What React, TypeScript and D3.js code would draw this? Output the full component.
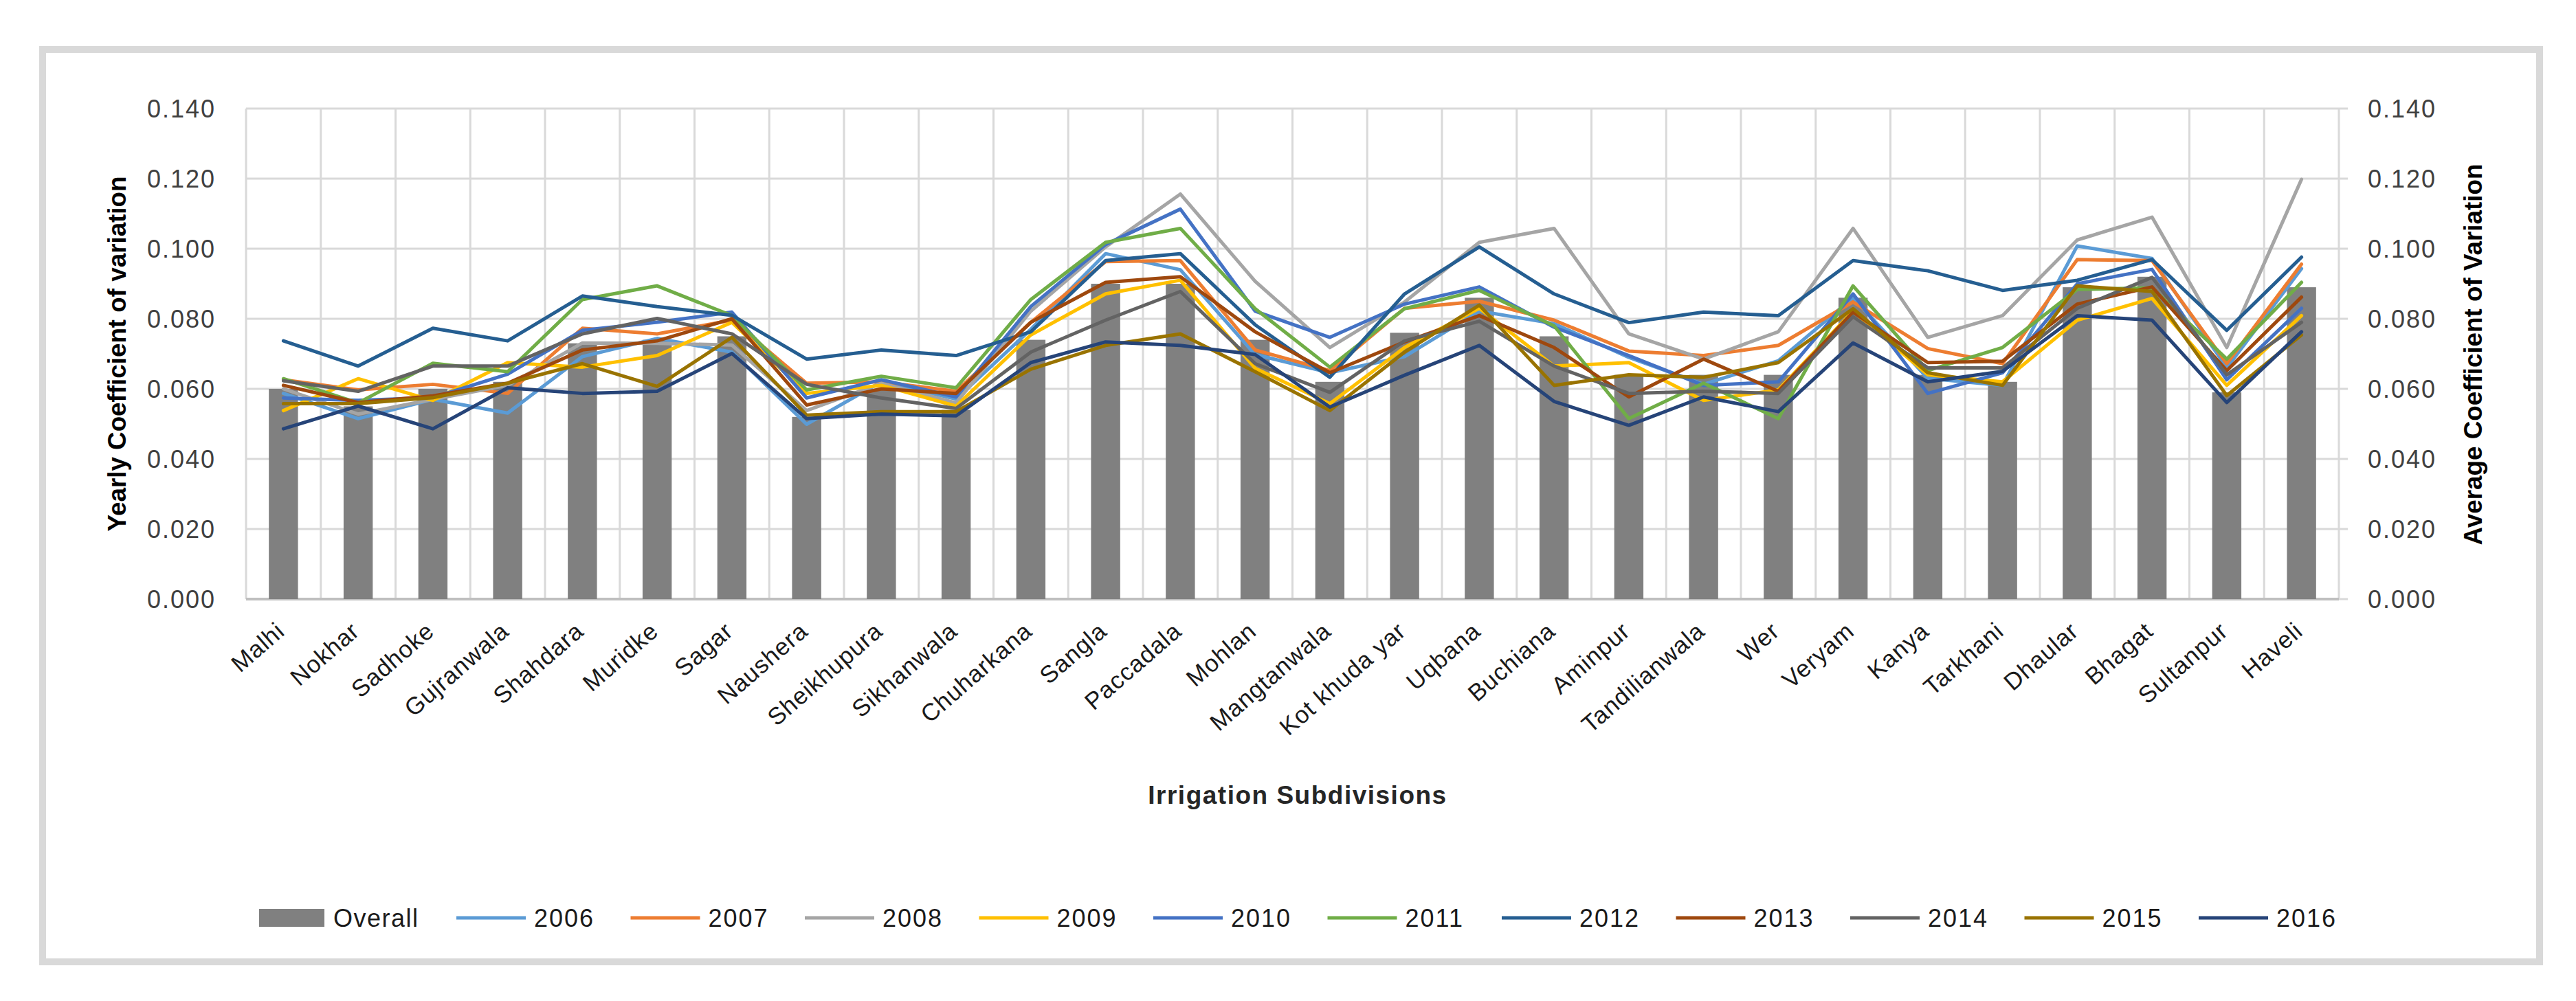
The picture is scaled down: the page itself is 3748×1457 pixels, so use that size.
import { useEffect } from 'react';
import * as d3 from 'd3';

const categories = [
  'Malhi', 'Nokhar', 'Sadhoke', 'Gujranwala', 'Shahdara', 'Muridke', 'Sagar', 'Naushera',
  'Sheikhupura', 'Sikhanwala', 'Chuharkana', 'Sangla', 'Paccadala', 'Mohlan', 'Mangtanwala',
  'Kot khuda yar', 'Uqbana', 'Buchiana', 'Aminpur', 'Tandilianwala', 'Wer', 'Veryam', 'Kanya',
  'Tarkhani', 'Dhaular', 'Bhagat', 'Sultanpur', 'Haveli',
];

const overall = [
  0.060, 0.055, 0.060, 0.062, 0.073, 0.074, 0.075, 0.052, 0.060, 0.054, 0.074, 0.090, 0.090, 0.074,
  0.062, 0.076, 0.086, 0.075, 0.064, 0.064, 0.064, 0.086, 0.064, 0.062, 0.089, 0.092, 0.059, 0.089,
];

const y2006 = [
  0.0587, 0.0515, 0.0570, 0.0531, 0.0692, 0.0744, 0.0705, 0.0499, 0.0620, 0.0571, 0.0770, 0.0986, 0.0940, 0.0698,
  0.0646, 0.0692, 0.0822, 0.0786, 0.0690, 0.0613, 0.0680, 0.0860, 0.0630, 0.0610, 0.1008, 0.0972, 0.0660, 0.0943,
];
const y2007 = [
  0.0626, 0.0597, 0.0613, 0.0587, 0.0773, 0.0757, 0.0796, 0.0616, 0.0620, 0.0593, 0.0790, 0.0963, 0.0966, 0.0711,
  0.0652, 0.0830, 0.0850, 0.0796, 0.0708, 0.0695, 0.0724, 0.0848, 0.0715, 0.0672, 0.0969, 0.0966, 0.0672, 0.0956,
];
const y2008 = [
  0.0600, 0.0528, 0.0570, 0.0610, 0.0731, 0.0730, 0.0725, 0.0538, 0.0616, 0.0560, 0.0822, 0.1005, 0.1156, 0.0907,
  0.0718, 0.0848, 0.1018, 0.1058, 0.0757, 0.0685, 0.0763, 0.1058, 0.0747, 0.0809, 0.1025, 0.1090, 0.0718, 0.1198,
];
const y2009 = [
  0.0538, 0.0629, 0.0567, 0.0675, 0.0662, 0.0695, 0.0790, 0.0587, 0.0610, 0.0551, 0.0754, 0.0871, 0.0910, 0.0659,
  0.0558, 0.0718, 0.0830, 0.0665, 0.0675, 0.0567, 0.0597, 0.0822, 0.0640, 0.0620, 0.0796, 0.0858, 0.0610, 0.0809,
];
const y2010 = [
  0.0574, 0.0567, 0.0575, 0.0642, 0.0767, 0.0790, 0.0819, 0.0574, 0.0626, 0.0577, 0.0835, 0.1012, 0.1113, 0.0822,
  0.0747, 0.0842, 0.0891, 0.0776, 0.0695, 0.0610, 0.0620, 0.0871, 0.0587, 0.0646, 0.0900, 0.0941, 0.0626, 0.0830,
];
const y2011 = [
  0.0629, 0.0560, 0.0673, 0.0649, 0.0855, 0.0894, 0.0809, 0.0597, 0.0636, 0.0603, 0.0855, 0.1018, 0.1058, 0.0829,
  0.0662, 0.0829, 0.0881, 0.0780, 0.0515, 0.0616, 0.0515, 0.0894, 0.0652, 0.0718, 0.0884, 0.0888, 0.0685, 0.0904,
];
const y2012 = [
  0.0737, 0.0665, 0.0773, 0.0737, 0.0865, 0.0835, 0.0810, 0.0685, 0.0711, 0.0695, 0.0763, 0.0966, 0.0986, 0.0783,
  0.0633, 0.0871, 0.1005, 0.0871, 0.0789, 0.0819, 0.0809, 0.0966, 0.0937, 0.0881, 0.0910, 0.0969, 0.0767, 0.0976,
];
const y2013 = [
  0.0610, 0.0561, 0.0580, 0.0616, 0.0711, 0.0737, 0.0800, 0.0554, 0.0600, 0.0587, 0.0790, 0.0904, 0.0920, 0.0763,
  0.0646, 0.0734, 0.0809, 0.0718, 0.0577, 0.0685, 0.0593, 0.0819, 0.0675, 0.0679, 0.0842, 0.0891, 0.0652, 0.0862,
];
const y2014 = [
  0.0623, 0.0593, 0.0665, 0.0665, 0.0757, 0.0801, 0.0757, 0.0613, 0.0574, 0.0544, 0.0705, 0.0796, 0.0878, 0.0672,
  0.0590, 0.0737, 0.0793, 0.0665, 0.0587, 0.0593, 0.0587, 0.0806, 0.0660, 0.0660, 0.0830, 0.0918, 0.0640, 0.0790,
];
const y2015 = [
  0.0558, 0.0558, 0.0575, 0.0616, 0.0672, 0.0607, 0.0747, 0.0525, 0.0535, 0.0535, 0.0656, 0.0724, 0.0757, 0.0649,
  0.0538, 0.0705, 0.0839, 0.0610, 0.0640, 0.0633, 0.0675, 0.0829, 0.0646, 0.0610, 0.0894, 0.0878, 0.0581, 0.0754,
];
const y2016 = [
  0.0486, 0.0551, 0.0486, 0.0603, 0.0587, 0.0593, 0.0701, 0.0515, 0.0528, 0.0523, 0.0675, 0.0734, 0.0724, 0.0698,
  0.0548, 0.0639, 0.0724, 0.0564, 0.0496, 0.0577, 0.0535, 0.0731, 0.0620, 0.0650, 0.0809, 0.0796, 0.0561, 0.0763,
];

const years = ['2006', '2007', '2008', '2009', '2010', '2011', '2012', '2013', '2014', '2015', '2016'];
const yearValues = [y2006, y2007, y2008, y2009, y2010, y2011, y2012, y2013, y2014, y2015, y2016];
const yearColors = [
  '#5B9BD5', '#ED7D31', '#A5A5A5', '#FFC000', '#4472C4', '#70AD47',
  '#255E91', '#9E480E', '#636363', '#997300', '#264478',
];

const W = 3748;
const H = 1457;
const FONT = '"Liberation Sans", Arial, sans-serif';

export default function App() {
  useEffect(() => {
    document.body.style.margin = '0';
  }, []);

  const x = d3.scaleBand<string>().domain(categories).range([358, 3403]).padding(0);
  const y = d3.scaleLinear().domain([0, 0.14]).range([872, 158]);
  const yTicks = y.ticks(7);
  const fmt = d3.format('.3f');
  const bw = x.bandwidth();
  const cx = (c: string) => (x(c) as number) + bw / 2;

  const line = d3.line<number>()
    .x((_, i) => cx(categories[i]))
    .y(d => y(d));

  const series = years.map((name, i) => ({ name, color: yearColors[i], values: yearValues[i] }));

  // legend slots
  const legendX = d3.scaleLinear().domain([0, 10]).range([664, 3199]);

  return (
    <svg width={W} height={H} style={{ display: 'block', background: '#fff' }} fontFamily={FONT}>
      <rect x={62} y={72} width={3633} height={1328} fill="#fff" stroke="#D9D9D9" strokeWidth={10} />

      {/* gridlines */}
      {yTicks.map(t => (
        <line key={'h' + t} x1={358} x2={3416} y1={y(t)} y2={y(t)} stroke="#D9D9D9" strokeWidth={3} />
      ))}
      {categories.map(c => (
        <line key={'v' + c} x1={x(c)} x2={x(c)} y1={158} y2={872} stroke="#D9D9D9" strokeWidth={3} />
      ))}
      <line x1={3403} x2={3403} y1={158} y2={872} stroke="#D9D9D9" strokeWidth={3} />
      <line x1={358} x2={3403} y1={y(0)} y2={y(0)} stroke="#BFBFBF" strokeWidth={4} />

      {/* bars */}
      {categories.map((c, i) => (
        <rect key={'b' + c} x={cx(c) - bw * 0.195} width={bw * 0.39} y={y(overall[i])}
          height={y(0) - y(overall[i])} fill="#808080" />
      ))}

      {/* lines */}
      {series.map(s => (
        <path key={s.name} d={line(s.values) || ''} fill="none" stroke={s.color} strokeWidth={5}
          strokeLinejoin="round" strokeLinecap="round" />
      ))}

      {/* left axis */}
      {yTicks.map(t => (
        <text key={'l' + t} x={314} y={y(t)} dy="0.36em" textAnchor="end" fontSize={36}
          letterSpacing={2} fill="#404040">{fmt(t)}</text>
      ))}
      {/* right axis */}
      {yTicks.map(t => (
        <text key={'r' + t} x={3445} y={y(t)} dy="0.36em" textAnchor="start" fontSize={36}
          letterSpacing={2} fill="#404040">{fmt(t)}</text>
      ))}

      {/* category labels */}
      {categories.map(c => (
        <text key={'c' + c} transform={`translate(${cx(c) + 4},${922}) rotate(-41)`} textAnchor="end"
          fontSize={35} letterSpacing={1} fill="#1a1a1a">{c}</text>
      ))}

      {/* axis titles */}
      <text transform="translate(183,515) rotate(-90)" textAnchor="middle" fontSize={36} fontWeight="bold"
        textLength={517} lengthAdjust="spacingAndGlyphs" fill="#000">Yearly Coefficient of variation</text>
      <text transform="translate(3611,516) rotate(-90)" textAnchor="middle" fontSize={36} fontWeight="bold"
        textLength={555} lengthAdjust="spacingAndGlyphs" fill="#000">Average Coefficient of Variation</text>
      <text x={1888} y={1170} textAnchor="middle" fontSize={37} fontWeight="bold" letterSpacing={1.5}
        fill="#262626">Irrigation Subdivisions</text>

      {/* legend */}
      <rect x={377} y={1323} width={95} height={26} fill="#808080" />
      <text x={485} y={1336} dy="0.36em" fontSize={36} letterSpacing={1.5} fill="#1a1a1a">Overall</text>
      {series.map((s, i) => (
        <g key={'lg' + s.name}>
          <line x1={legendX(i)} x2={legendX(i) + 101} y1={1336} y2={1336} stroke={s.color} strokeWidth={5} />
          <text x={legendX(i) + 113} y={1336} dy="0.36em" fontSize={36} letterSpacing={2}
            fill="#1a1a1a">{s.name}</text>
        </g>
      ))}
    </svg>
  );
}
